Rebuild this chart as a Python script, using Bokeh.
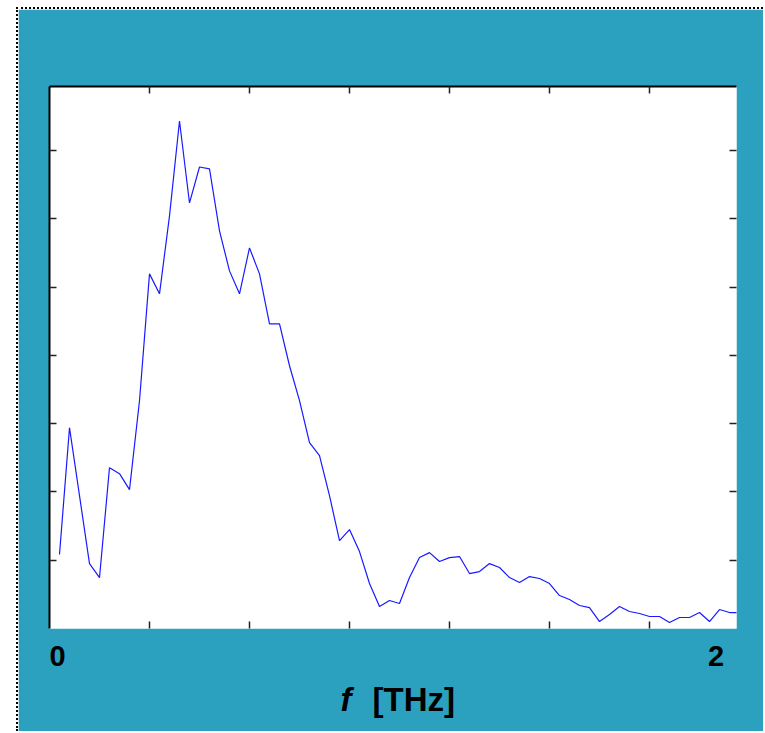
from bokeh.plotting import figure
from bokeh.models import FixedTicker, Label, LinearAxis, Range1d
from bokeh.embed import file_html
from bokeh.resources import INLINE

TEAL = "#2ca1bf"

# frequency samples (THz) and spectrum amplitude (arbitrary units, tick = 1)
freq_step = 0.03
amplitude = [
    1.083, 2.942, 1.946, 0.951, 0.746, 2.356, 2.268, 2.034, 3.337, 5.195,
    4.903, 6.044, 7.435, 6.234, 6.761, 6.732, 5.825, 5.239, 4.903, 5.576,
    5.195, 4.464, 4.464, 3.849, 3.337, 2.722, 2.532, 1.946, 1.288, 1.449,
    1.127, 0.659, 0.322, 0.410, 0.366, 0.746, 1.039, 1.112, 0.981, 1.039,
    1.054, 0.805, 0.834, 0.951, 0.893, 0.746, 0.673, 0.761, 0.732, 0.659,
    0.483, 0.424, 0.337, 0.307, 0.102, 0.205, 0.322, 0.249, 0.220, 0.176,
    0.176, 0.088, 0.161, 0.161, 0.234, 0.102, 0.278, 0.234, 0.234,
]
freq = [round(freq_step * (i + 1), 4) for i in range(len(amplitude))]

x_ticks = [0.3, 0.6, 0.9, 1.2, 1.5, 1.8]
y_ticks = [1, 2, 3, 4, 5, 6, 7]
x_tick_labels = {"0": 0.0, "2": 2.0}
x_unit_italic = "f"
x_unit_text = "[THz]"

p = figure(
    width=747, height=724,
    x_range=Range1d(0, 2.061), y_range=Range1d(0, 7.94),
    output_backend="svg", toolbar_location=None,
    min_border_left=31, min_border_right=29,
    min_border_top=77, min_border_bottom=105,
    background_fill_color="white", border_fill_color=TEAL,
    outline_line_color=None,
    x_axis_location=None, y_axis_location=None,
)
p.grid.visible = False

def make_axis(ticks, line_color):
    ax = LinearAxis(ticker=FixedTicker(ticks=ticks))
    ax.major_label_overrides = {t: "" for t in ticks}
    ax.major_tick_in = 7
    ax.major_tick_out = 0
    ax.minor_tick_line_color = None
    ax.major_tick_line_color = "#222222"
    ax.major_tick_line_width = 1.5
    ax.axis_line_color = line_color
    ax.axis_line_width = 2
    ax.major_label_standoff = 0
    return ax

p.add_layout(make_axis(x_ticks, None), "below")
p.add_layout(make_axis(x_ticks, "black"), "above")
p.add_layout(make_axis(y_ticks, "black"), "left")
p.add_layout(make_axis(y_ticks, None), "right")

p.line(freq, amplitude, line_color="#1a1aff", line_width=1.2)

# labels live in side panels (unclipped); positioned in data coordinates
for txt, xv in x_tick_labels.items():
    p.add_layout(Label(
        x=xv, y=-0.41, text=txt,
        text_align="left" if xv == 0 else "center",
        text_baseline="alphabetic",
        text_font="Liberation Sans", text_font_size="29px",
        text_font_style="bold", text_color="black",
    ), "above")

p.add_layout(Label(
    x=0.873, y=-1.04, text=x_unit_italic, text_align="left",
    text_baseline="alphabetic", text_font="Liberation Sans",
    text_font_size="33px", text_font_style="bold italic", text_color="black",
), "below")
p.add_layout(Label(
    x=0.969, y=-1.04, text=x_unit_text, text_align="left",
    text_baseline="alphabetic", text_font="Liberation Sans",
    text_font_size="33px", text_font_style="bold", text_color="black",
), "below")

p.styles = {
    "margin-left": "16px",
    "margin-top": "7px",
    "border-left": "2px dotted black",
    "border-top": "2px dotted black",
}

open("out.html", "w").write(file_html(p, INLINE))
